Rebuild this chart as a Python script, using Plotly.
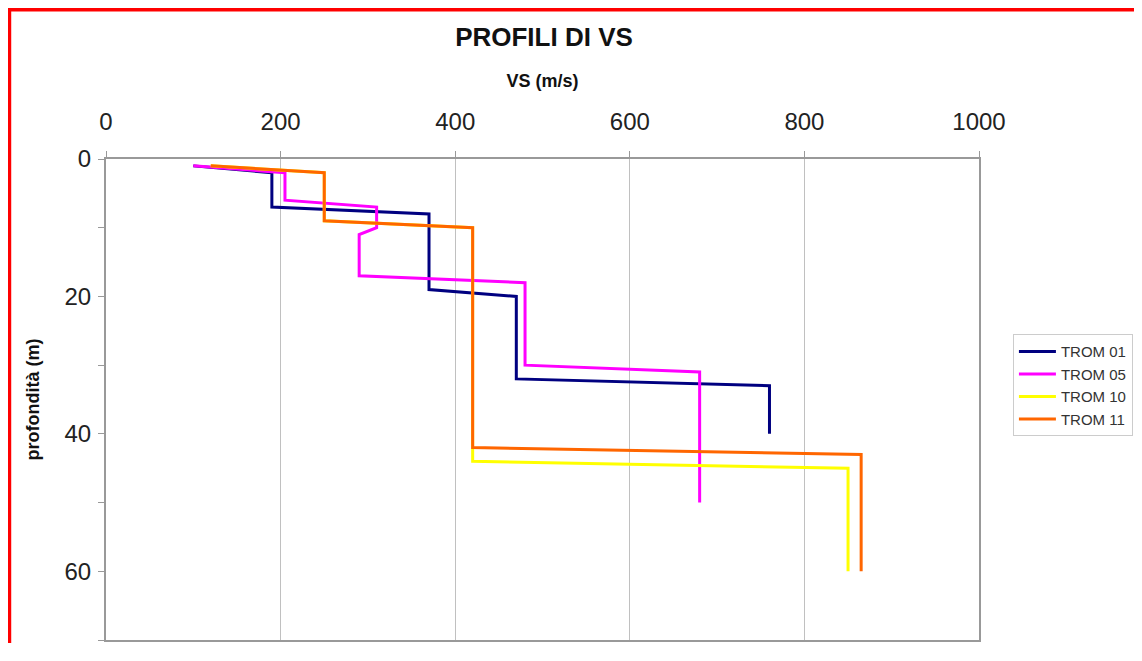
import plotly.graph_objects as go

# profili Vs (m/s) vs profondità (m)
series_names = ["TROM 01", "TROM 05", "TROM 10", "TROM 11"]
series_colors = ["#000080", "#FF00FF", "#FFFF00", "#FF6600"]

vs_trom01 = [100, 190, 190, 370, 370, 470, 470, 760, 760]
depth_trom01 = [1, 2, 7, 8, 19, 20, 32, 33, 40]

vs_trom05 = [100, 205, 205, 310, 310, 290, 290, 480, 480, 680, 680]
depth_trom05 = [1, 2, 6, 7, 10, 11, 17, 18, 30, 31, 50]

vs_trom10 = [120, 250, 250, 420, 420, 850, 850]
depth_trom10 = [1, 2, 9, 10, 44, 45, 60]

vs_trom11 = [120, 250, 250, 420, 420, 865, 865]
depth_trom11 = [1, 2, 9, 10, 42, 43, 60]

x_ticks = [0, 200, 400, 600, 800, 1000]
y_ticks = [0, 20, 40, 60]
y_minor = [10, 30, 50, 70]

FONT = "Arial, Liberation Sans, sans-serif"

fig = go.Figure()
for name, color, xs, ys in zip(
    series_names, series_colors,
    [vs_trom01, vs_trom05, vs_trom10, vs_trom11],
    [depth_trom01, depth_trom05, depth_trom10, depth_trom11],
):
    fig.add_trace(go.Scatter(
        x=xs, y=ys, mode="lines", name=name,
        line=dict(color=color, width=3),
    ))

# page body has an 8px margin -> figure coords = screen - 8
W, H = 1126, 635
L, R, T, B = 98, 973, 151, 634
pw, ph = R - L, B - T

def px(x):
    return (x - L) / pw

def py(y):
    return (B - y) / ph

fig.update_layout(
    width=W, height=H,
    margin=dict(l=L, r=W - R, t=T, b=H - B),
    paper_bgcolor="white", plot_bgcolor="white",
    font=dict(family=FONT, color="#222222"),
    title=dict(
        text="<b>PROFILI DI VS</b>", x=px(537), xref="paper", xanchor="center",
        y=1 - 29 / H, yref="container", yanchor="middle",
        font=dict(size=26, color="#111111"),
    ),
    xaxis=dict(
        side="top", range=[0, 1000], tickvals=x_ticks,
        showgrid=True, gridcolor="#C0C0C0", gridwidth=1,
        showline=True, linecolor="#999999", linewidth=2, mirror=True,
        ticks="outside", ticklen=6, tickcolor="#999999",
        ticklabelstandoff=11,
        tickfont=dict(size=24, color="#222222"),
        title=dict(text="<b>VS (m/s)</b>", font=dict(size=18, color="#111111"), standoff=16),
        zeroline=False,
    ),
    yaxis=dict(
        range=[70, 0], tickvals=y_ticks,
        showgrid=False,
        showline=True, linecolor="#999999", linewidth=2, mirror=True,
        ticks="outside", ticklen=6, tickcolor="#999999",
        ticklabelstandoff=2,
        minor=dict(tickvals=y_minor, ticks="outside", ticklen=6, tickcolor="#999999", showgrid=False),
        tickfont=dict(size=24, color="#222222"),
        title=dict(text="<b>profondità (m)</b>", font=dict(size=18, color="#111111"), standoff=20),
        zeroline=False,
    ),
    legend=dict(
        x=px(1007), y=py(327), xanchor="left", yanchor="top",
        bordercolor="#CCCCCC", borderwidth=1, bgcolor="white",
        font=dict(size=15, color="#333333"),
        itemwidth=37,
    ),
    showlegend=True,
)

# red frame around the picture
fig.add_shape(
    type="rect", xref="paper", yref="paper",
    x0=px(1), x1=px(1200), y0=py(700), y1=py(1),
    line=dict(color="#FF0000", width=4), layer="above",
)

fig.write_html("out.html")
